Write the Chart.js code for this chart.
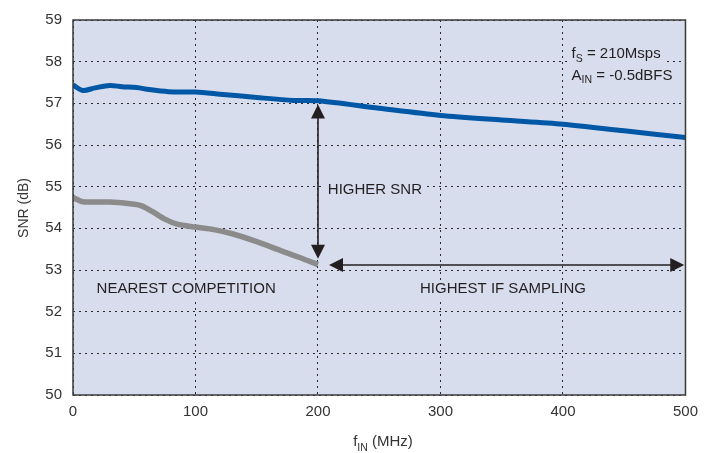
<!DOCTYPE html>
<html>
<head>
<meta charset="utf-8">
<script src="https://cdn.jsdelivr.net/npm/chart.js@4"></script>
<style>
  html, body { margin: 0; padding: 0; background: #fff; }
  #wrap { width: 706px; height: 453px; }
</style>
</head>
<body>
<div id="wrap"><canvas id="chart" width="706" height="453"></canvas></div>
<script>
// values
const fTicks = [0, 100, 200, 300, 400, 500];
const snrTicks = [50, 51, 52, 53, 54, 55, 56, 57, 58, 59];

// this part
const ourFreq = [0, 8, 18, 30, 40, 52, 62, 78, 100, 120, 150, 180, 200, 250, 300, 350, 400, 450, 500];
const ourSnr  = [57.44, 57.31, 57.37, 57.43, 57.40, 57.38, 57.33, 57.28, 57.27, 57.22, 57.14, 57.07, 57.06, 56.88, 56.71, 56.60, 56.50, 56.34, 56.18];

// nearest competition
const compFreq = [0, 8, 30, 50, 56, 65, 75, 85, 100, 115, 130, 150, 170, 185, 200];
const compSnr  = [54.74, 54.64, 54.63, 54.58, 54.54, 54.40, 54.22, 54.10, 54.03, 53.97, 53.87, 53.68, 53.46, 53.30, 53.13];

const FONT = '"Liberation Sans", Arial, sans-serif';
const TEXT = '#231f20';
const PLOT_BG = '#d8ddee';

// arrows and notes (in data units)
const notes = {
  vArrow: { x: 200, y1: 56.97, y2: 53.27 },
  hArrow: { y: 53.12, x1: 209, x2: 499 },
  labels: [
    { x: 208, y: 54.93, align: 'left', runs: [['HIGHER SNR']] },
    { x: 92.4, y: 52.54, align: 'center', runs: [['NEAREST COMPETITION']] },
    { x: 351, y: 52.54, align: 'center', runs: [['HIGHEST IF SAMPLING']] },
    { x: 407, y: 58.18, align: 'left', runs: [['f'], ['S', 1], [' = 210Msps']] },
    { x: 407, y: 57.66, align: 'left', runs: [['A'], ['IN', 1], [' = -0.5dBFS']] }
  ]
};

function toPoints(xs, ys) {
  return xs.map((x, i) => ({ x: x, y: ys[i] }));
}

// text with subscripts
function runsWidth(ctx, runs, size) {
  let w = 0;
  runs.forEach(r => {
    ctx.font = (r[1] ? size * 0.7 : size) + 'px ' + FONT;
    w += ctx.measureText(r[0]).width;
  });
  return w;
}
function drawRuns(ctx, runs, x, y, size) {
  let cx = x;
  runs.forEach(r => {
    const sub = !!r[1];
    ctx.font = (sub ? size * 0.7 : size) + 'px ' + FONT;
    ctx.fillText(r[0], cx, sub ? y + size * 0.3 : y);
    cx += ctx.measureText(r[0]).width;
  });
}

function arrowHead(ctx, x, y, dx, dy) {
  // tip at x,y pointing along dx,dy
  const len = 14, half = 7;
  const px = -dy, py = dx;
  ctx.beginPath();
  ctx.moveTo(x, y);
  ctx.lineTo(x - dx * len + px * half, y - dy * len + py * half);
  ctx.lineTo(x - dx * len - px * half, y - dy * len - py * half);
  ctx.closePath();
  ctx.fill();
}

const decor = {
  id: 'decor',
  beforeDraw(chart) {
    const { ctx, chartArea: a } = chart;
    ctx.save();
    ctx.fillStyle = PLOT_BG;
    ctx.fillRect(a.left, a.top, a.right - a.left, a.bottom - a.top);
    ctx.restore();
  },
  afterDatasetsDraw(chart) {
    const { ctx, chartArea: a } = chart;
    const xs = chart.scales.x, ys = chart.scales.y;
    ctx.save();

    // arrows
    ctx.strokeStyle = TEXT;
    ctx.fillStyle = TEXT;
    ctx.lineWidth = 1.6;
    const vx = xs.getPixelForValue(notes.vArrow.x);
    const vy1 = ys.getPixelForValue(notes.vArrow.y1);
    const vy2 = ys.getPixelForValue(notes.vArrow.y2);
    ctx.beginPath();
    ctx.moveTo(vx, vy1 + 10);
    ctx.lineTo(vx, vy2 - 10);
    ctx.stroke();
    arrowHead(ctx, vx, vy1, 0, -1);
    arrowHead(ctx, vx, vy2, 0, 1);

    const hy = ys.getPixelForValue(notes.hArrow.y);
    const hx1 = xs.getPixelForValue(notes.hArrow.x1);
    const hx2 = xs.getPixelForValue(notes.hArrow.x2);
    ctx.beginPath();
    ctx.moveTo(hx1 + 10, hy);
    ctx.lineTo(hx2 - 10, hy);
    ctx.stroke();
    arrowHead(ctx, hx1, hy, -1, 0);
    arrowHead(ctx, hx2, hy, 1, 0);

    // notes with a plot-coloured box behind them
    const size = 15;
    ctx.textBaseline = 'middle';
    ctx.textAlign = 'left';
    notes.labels.forEach(l => {
      const w = runsWidth(ctx, l.runs, size);
      let x = xs.getPixelForValue(l.x);
      if (l.align === 'center') x -= w / 2;
      const y = ys.getPixelForValue(l.y);
      ctx.fillStyle = PLOT_BG;
      ctx.fillRect(x - 3, y - 9, w + 6, 18);
      ctx.fillStyle = TEXT;
      drawRuns(ctx, l.runs, x, y, size);
    });

    // frame
    ctx.strokeStyle = '#3a3a3a';
    ctx.lineWidth = 1.5;
    ctx.strokeRect(a.left, a.top, a.right - a.left, a.bottom - a.top);
    ctx.restore();
  },
  afterDraw(chart) {
    const { ctx } = chart;
    ctx.save();
    ctx.fillStyle = '#333';
    ctx.textBaseline = 'alphabetic';
    // x title
    const xr = [['f'], ['IN', 1], [' (MHz)']];
    const w = runsWidth(ctx, xr, 15);
    drawRuns(ctx, xr, 383 - w / 2, 446, 15);
    // y title
    ctx.translate(28, 208);
    ctx.rotate(-Math.PI / 2);
    ctx.textAlign = 'center';
    ctx.font = '14px ' + FONT;
    ctx.fillText('SNR (dB)', 0, 0);
    ctx.restore();
  }
};

new Chart(document.getElementById('chart'), {
  type: 'line',
  data: {
    datasets: [
      {
        label: 'This ADC',
        data: toPoints(ourFreq, ourSnr),
        borderColor: '#0057a6',
        borderWidth: 5,
        pointRadius: 0,
        tension: 0.3,
        borderCapStyle: 'butt',
        order: 1
      },
      {
        label: 'Nearest competition',
        data: toPoints(compFreq, compSnr),
        borderColor: '#8b8b8b',
        borderWidth: 5.5,
        pointRadius: 0,
        tension: 0.3,
        order: 2
      }
    ]
  },
  options: {
    responsive: false,
    animation: false,
    devicePixelRatio: 1,
    layout: { padding: { top: 12, right: 13, left: 0, bottom: 0 } },
    plugins: {
      legend: { display: false },
      tooltip: { enabled: false }
    },
    scales: {
      x: {
        type: 'linear',
        min: fTicks[0],
        max: fTicks[fTicks.length - 1],
        afterBuildTicks(scale) { scale.ticks = fTicks.map(v => ({ value: v })); },
        afterFit(scale) { scale.height = 58; },
        ticks: { font: { family: FONT, size: 15 }, color: '#333', padding: 8 },
        grid: { color: '#2a2a2a', lineWidth: 1, drawTicks: false },
        border: { display: false, dash: [2, 4] }
      },
      y: {
        min: snrTicks[0],
        max: snrTicks[snrTicks.length - 1],
        afterBuildTicks(scale) { scale.ticks = snrTicks.map(v => ({ value: v })); },
        afterFit(scale) { scale.width = 73; },
        ticks: { font: { family: FONT, size: 15 }, color: '#333', padding: 11 },
        grid: { color: '#2a2a2a', lineWidth: 1, drawTicks: false },
        border: { display: false, dash: [2, 4] }
      }
    }
  },
  plugins: [decor]
});
</script>
</body>
</html>
